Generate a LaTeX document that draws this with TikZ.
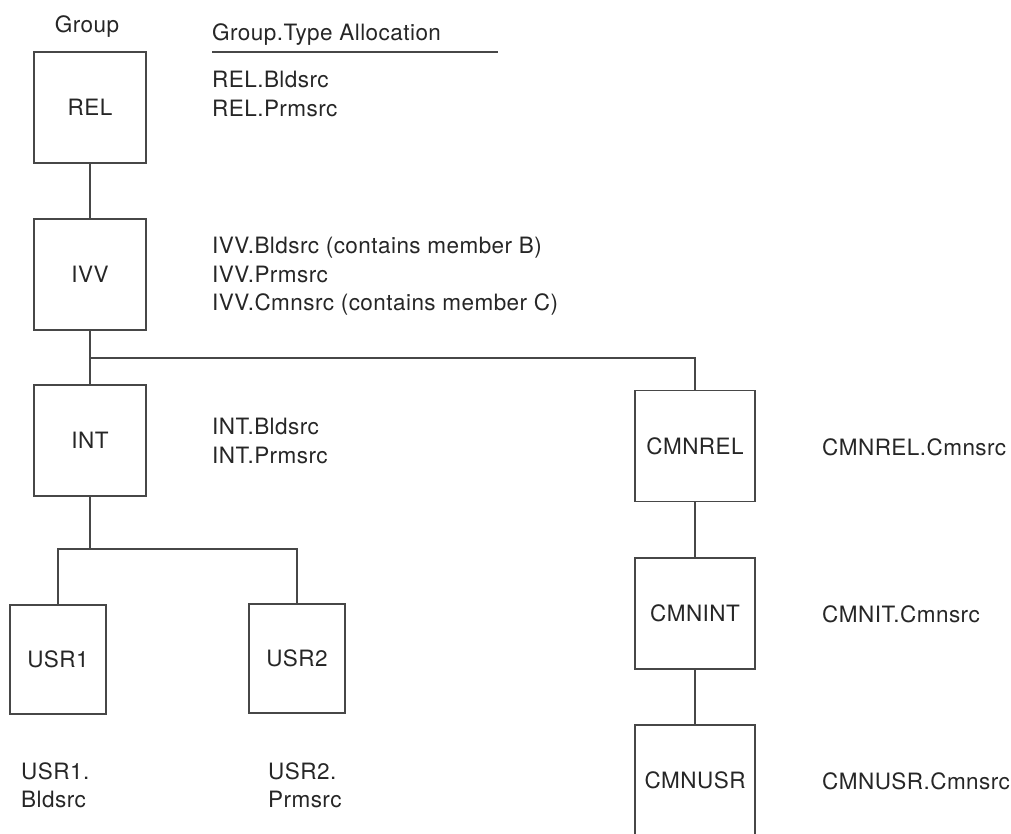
\documentclass[tikz,border=0pt]{standalone}
\usepackage{fontspec}
\setmainfont[LetterSpace=2]{TeX Gyre Heros}
\begin{document}
\begin{tikzpicture}[x=1pt,y=-1pt,
  box/.style={draw=black!72, line width=1.2pt, rectangle, minimum width=112pt, minimum height=111pt, inner sep=0pt, text=black!85},
  sbox/.style={draw=black!72, line width=1.2pt, rectangle, minimum width=96pt, minimum height=109pt, inner sep=0pt, text=black!85},
  wbox/.style={draw=black!72, line width=1.2pt, rectangle, minimum width=120pt, minimum height=111pt, inner sep=0pt, text=black!85},
  lbl/.style={anchor=base west, inner sep=0pt, text=black!85},
  conn/.style={draw=black!72, line width=1.2pt},
  every node/.append style={font=\fontsize{22.5}{27}\selectfont}]
\useasboundingbox (0,0) rectangle (1011,833);
\clip (0,0) rectangle (1011,833);

% headings
\node[anchor=base, inner sep=0pt, text=black!85] (hgroup) at (87,32) {Group};
\node[lbl] (halloc) at (212,40) {Group.Type Allocation};
\coordinate (ula) at (212,52);
\coordinate (ulb) at (498,52);
\draw[conn] (ula) -- (ulb);

% left column boxes
\node[box] (REL) at (90,107.5) {REL};
\node[box] (IVV) at (90,274.5) {IVV};
\node[box] (INT) at (90,440.5) {INT};
\node[sbox] (USR1) at (58,659.5) {USR1};
\node[sbox] (USR2) at (297,658.5) {USR2};

% right column boxes
\node[wbox] (CMNREL) at (695,446) {CMNREL};
\node[wbox] (CMNINT) at (695,613.5) {CMNINT};
\node[wbox] (CMNUSR) at (695,780.5) {CMNUSR};

% allocation labels
\node[lbl] (t1) at (212,87) {REL.Bldsrc};
\node[lbl] (t2) at (212,116) {REL.Prmsrc};
\node[lbl] (t3) at (212,253) {IVV.Bldsrc (contains member B)};
\node[lbl] (t4) at (212,282) {IVV.Prmsrc};
\node[lbl] (t5) at (212,310) {IVV.Cmnsrc (contains member C)};
\node[lbl] (t6) at (212,434) {INT.Bldsrc};
\node[lbl] (t7) at (212,463) {INT.Prmsrc};
\node[lbl] (t8) at (21,779) {USR1.};
\node[lbl] (t9) at (21,807) {Bldsrc};
\node[lbl] (t10) at (268,779) {USR2.};
\node[lbl] (t11) at (268,807) {Prmsrc};
\node[lbl] (t12) at (822,455) {CMNREL.Cmnsrc};
\node[lbl] (t13) at (822,622) {CMNIT.Cmnsrc};
\node[lbl] (t14) at (822,789) {CMNUSR.Cmnsrc};

% connectors
\coordinate (j1) at (90,358);
\coordinate (j2) at (90,549);
\draw[conn] (REL.south) -- (IVV.north);
\draw[conn] (IVV.south) -- (INT.north);
\draw[conn] (j1) -| (CMNREL.north);
\draw[conn] (INT.south) -- (j2);
\draw[conn] (USR1.north) |- (j2) -| (USR2.north);
\draw[conn] (CMNREL.south) -- (CMNINT.north);
\draw[conn] (CMNINT.south) -- (CMNUSR.north);
\end{tikzpicture}
\end{document}
